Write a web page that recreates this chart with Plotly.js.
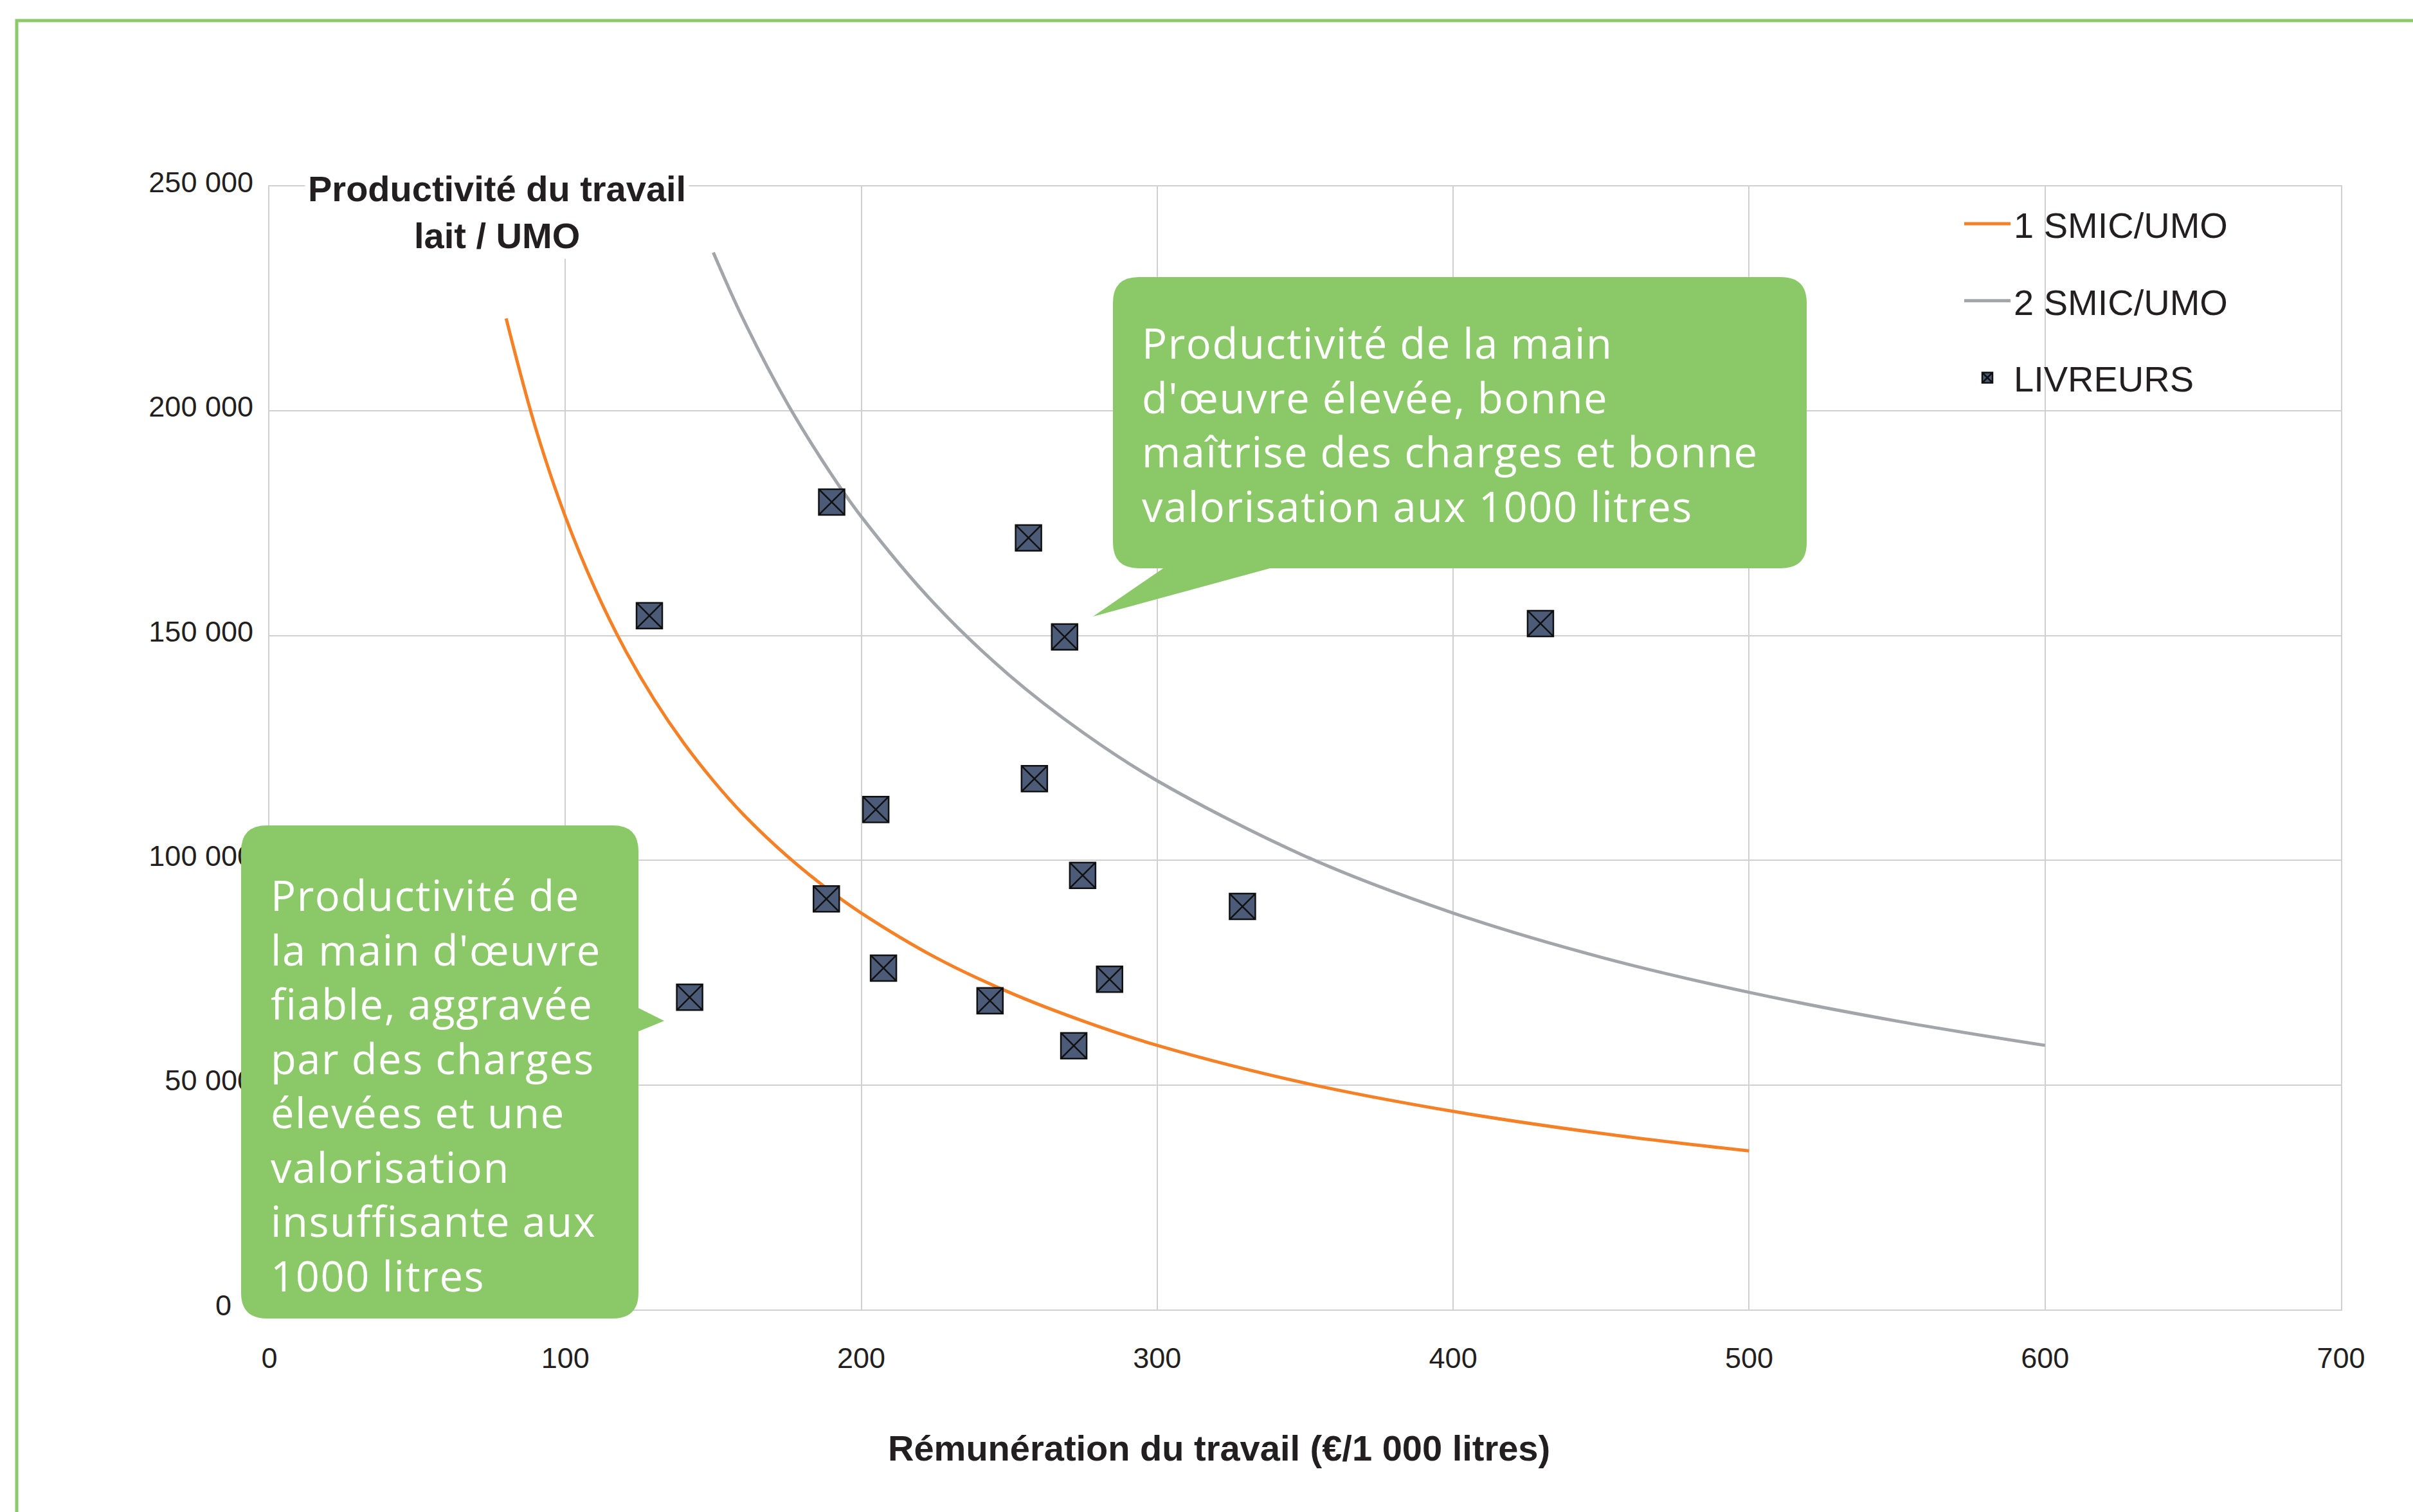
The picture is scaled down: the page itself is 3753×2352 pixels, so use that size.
<!DOCTYPE html>
<html><head><meta charset="utf-8">
<script src="https://cdn.plot.ly/plotly-3.0.1.min.js"></script>
<style>html,body{margin:0;padding:0;background:#fff;} #chart{width:3753px;height:2352px;}</style>
</head><body><div id="chart"></div>
<script>
// ---- Data ----
const smic1Name = '1 SMIC/UMO';
const smic1X = [80, 90, 100, 110, 120, 130, 140, 150, 160, 175, 190, 200, 225, 250, 275, 300, 350, 400, 450, 500];
const smic1Y = [220600, 196100, 176500, 160500, 147100, 135800, 126100, 117700, 110300, 100900, 92900, 88250, 78400, 70600, 64200, 58800, 50400, 44100, 39200, 35300];

const smic2Name = '2 SMIC/UMO';
const smic2X = [150, 160, 175, 190, 200, 225, 250, 275, 300, 350, 400, 450, 500, 550, 600];
const smic2Y = [235300, 220600, 201700, 185800, 176500, 156900, 141200, 128400, 117700, 100900, 88250, 78400, 70600, 64200, 58800];

const livreursName = 'LIVREURS';
const livreursX = [128.4, 190.0, 256.5, 268.7, 429.5, 204.9, 258.5, 188.2, 274.8, 328.8, 207.5, 142.0, 243.5, 283.9, 271.8];
const livreursY = [154450, 179740, 171770, 149730, 152700, 111300, 118150, 91400, 96640, 89720, 76000, 69500, 68730, 73510, 58720];

const xTickVals = [0, 100, 200, 300, 400, 500, 600, 700];
const xTickText = ['0', '100', '200', '300', '400', '500', '600', '700'];
const yTickVals = [0, 50000, 100000, 150000, 200000, 250000];
const yTickText = ['0\u00a0\u00a0\u2009', '50 000', '100 000', '150 000', '200 000', '250 000'];

const chartTitle = 'Productivité du travail<br>lait / UMO';
const xTitle = 'Rémunération du travail (€/1 000 litres)';
const callout1Text = "Productivité de la main<br>d'œuvre élevée, bonne<br>maîtrise des charges et bonne<br>valorisation aux 1000 litres";
const callout2Text = "Productivité de<br>la main d'œuvre<br>fiable, aggravée<br>par des charges<br>élevées et une<br>valorisation<br>insuffisante aux<br>1000 litres";

// ---- Layout geometry (pixels) ----
const W = 3753, H = 2352, L = 419, R = 112, T = 290, B = 315;
const PW = W - L - R, PH = H - T - B;
function px(x) { return (x - L) / PW; }
function py(y) { return (H - B - y) / PH; }
function pt(x, y) { return px(x).toFixed(5) + ',' + py(y).toFixed(5); }
function roundRect(x0, y0, x1, y1, r) {
  return 'M' + pt(x0 + r, y0) + ' L' + pt(x1 - r, y0) + ' Q' + pt(x1, y0) + ' ' + pt(x1, y0 + r) +
    ' L' + pt(x1, y1 - r) + ' Q' + pt(x1, y1) + ' ' + pt(x1 - r, y1) +
    ' L' + pt(x0 + r, y1) + ' Q' + pt(x0, y1) + ' ' + pt(x0, y1 - r) +
    ' L' + pt(x0, y0 + r) + ' Q' + pt(x0, y0) + ' ' + pt(x0 + r, y0) + ' Z';
}
function tri(a, b, c) { return 'M' + pt(a[0], a[1]) + ' L' + pt(b[0], b[1]) + ' L' + pt(c[0], c[1]) + ' Z'; }

const GREEN = '#8bc867';
const TXT = '#231f20';
const GRID = '#d0d0d0';
const BASEFONT = 'Liberation Sans, Arial, sans-serif';
const CALLFONT = 'Open Sans, sans-serif';

const traces = [
  { type: 'scatter', mode: 'lines', name: smic1Name, x: smic1X, y: smic1Y, legendgroup: 'a',
    line: { color: '#f58025', width: 5, shape: 'spline' }, hoverinfo: 'x+y' },
  { type: 'scatter', mode: 'lines', name: smic2Name, x: smic2X, y: smic2Y, legendgroup: 'b',
    line: { color: '#a2a5aa', width: 5, shape: 'spline' }, hoverinfo: 'x+y' },
  { type: 'scatter', mode: 'markers', name: livreursName, x: livreursX, y: livreursY, legendgroup: 'c',
    marker: { symbol: 'square-x', size: 40, color: '#4b5b78', line: { color: '#111111', width: 2.5 } }, hoverinfo: 'x+y' }
];

const layout = {
  width: W, height: H,
  margin: { l: L, r: R, t: T, b: B },
  paper_bgcolor: '#ffffff', plot_bgcolor: '#ffffff',
  font: { family: BASEFONT, color: TXT, size: 44 },
  showlegend: true,
  legend: {
    x: px(3050), y: py(305), xanchor: 'left', yanchor: 'top',
    font: { family: BASEFONT, size: 56, color: TXT },
    itemwidth: 72, traceorder: 'grouped', tracegroupgap: 44,
    bgcolor: 'rgba(0,0,0,0)'
  },
  xaxis: {
    range: [0, 700], tickvals: xTickVals, ticktext: xTickText,
    showgrid: true, gridcolor: GRID, gridwidth: 2,
    showline: true, linecolor: GRID, linewidth: 2, mirror: true,
    zeroline: false, ticks: '', ticklabelstandoff: 35,
    tickfont: { family: BASEFONT, size: 45, color: TXT }
  },
  yaxis: {
    range: [0, 250000], tickvals: yTickVals, ticktext: yTickText,
    showgrid: true, gridcolor: GRID, gridwidth: 2,
    showline: true, linecolor: GRID, linewidth: 2, mirror: true,
    zeroline: false, ticks: '', ticklabelstandoff: 14, ticklabelshift: -7,
    tickfont: { family: BASEFONT, size: 45, color: TXT }
  },
  shapes: [
    // outer green frame (top and left visible)
    { type: 'path', xref: 'paper', yref: 'paper', layer: 'above',
      path: 'M' + pt(26, H + 20) + ' L' + pt(26, 32) + ' L' + pt(W + 20, 32),
      line: { color: '#8cc96a', width: 5 } },
    // callout 1 (top right)
    { type: 'path', xref: 'paper', yref: 'paper', layer: 'above', fillcolor: GREEN, line: { width: 0 },
      path: roundRect(1731, 431, 2810, 884, 40) },
    { type: 'path', xref: 'paper', yref: 'paper', layer: 'above', fillcolor: GREEN, line: { width: 0 },
      path: tri([1815, 880], [1700, 959], [1990, 880]) },
    // callout 2 (bottom left)
    { type: 'path', xref: 'paper', yref: 'paper', layer: 'above', fillcolor: GREEN, line: { width: 0 },
      path: roundRect(375, 1284, 993, 2051, 40) },
    { type: 'path', xref: 'paper', yref: 'paper', layer: 'above', fillcolor: GREEN, line: { width: 0 },
      path: tri([989, 1566], [1033, 1588], [989, 1606]) }
  ],
  annotations: [
    { xref: 'paper', yref: 'paper', x: px(773), y: py(330), xanchor: 'center', yanchor: 'middle',
      text: '<b>' + chartTitle + '</b>', showarrow: false, align: 'center', bgcolor: '#ffffff', borderpad: 4,
      font: { family: BASEFONT, size: 56, color: TXT } },
    { xref: 'paper', yref: 'paper', x: px(1896), y: py(2252), xanchor: 'center', yanchor: 'middle',
      text: '<b>' + xTitle + '</b>', showarrow: false,
      font: { family: BASEFONT, size: 56, color: TXT } },
    { xref: 'paper', yref: 'paper', x: px(1774), y: py(660), xanchor: 'left', yanchor: 'middle',
      text: callout1Text, showarrow: false, align: 'left',
      font: { family: CALLFONT, size: 65, color: '#ffffff' } },
    { xref: 'paper', yref: 'paper', x: px(419), y: py(1688), xanchor: 'left', yanchor: 'middle',
      text: callout2Text, showarrow: false, align: 'left',
      font: { family: CALLFONT, size: 65, color: '#ffffff' } }
  ]
};

Plotly.newPlot('chart', traces, layout, { displayModeBar: false, staticPlot: true }).then(function (gd) {
  // slightly wider tracking for the callout texts, as in the reference typeface
  const anns = gd.querySelectorAll('.annotation');
  [2, 3].forEach(function (i) {
    if (anns[i]) {
      const t = anns[i].querySelector('text');
      if (t) t.style.letterSpacing = '1.6px';
    }
  });
});
</script>
</body></html>
